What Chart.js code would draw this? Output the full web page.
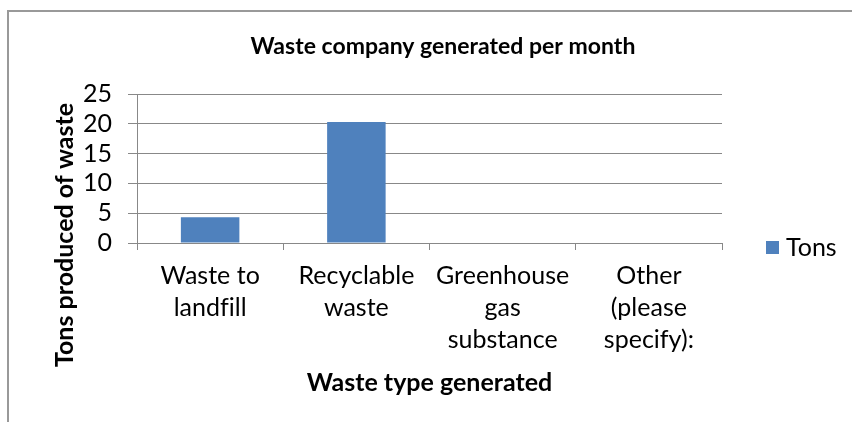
<!DOCTYPE html>
<html>
<head>
<meta charset="utf-8">
<script src="https://cdn.jsdelivr.net/npm/chart.js@4/dist/chart.umd.min.js"></script>
<style>
  html, body { margin: 0; padding: 0; background: #fff; }
  #wrap { position: relative; width: 852px; height: 422px; overflow: hidden; }
  #frame {
    position: absolute; left: 7px; top: 10px; width: 900px; height: 500px;
    border-left: 2px solid #999; border-top: 2px solid #999;
  }
  #chart { position: absolute; left: 0; top: 0; }
</style>
</head>
<body>
<div id="wrap">
  <div id="frame"></div>
  <canvas id="chart" width="852" height="422"></canvas>
</div>
<script>
// Monthly waste figures by waste type
const categories = [
  ['Waste to', 'landfill'],
  ['Recyclable', 'waste'],
  ['Greenhouse', 'gas', 'substance'],
  ['Other', '(please', 'specify):']
];
const tons = [4.3, 20.3, 0, 0];
const yTicks = [0, 5, 10, 15, 20, 25];

const chartTitle = 'Waste company generated per month';
const yTitle = 'Tons produced of waste';
const xTitle = 'Waste type generated';
const seriesName = 'Tons';

const FONT = 'Lato, "Open Sans", sans-serif';
const BAR = '#4F81BD';
const GRID = '#888888';

// A hair of letter spacing keeps "fi" as two separate glyphs
const plainLetters = {
  id: 'plainLetters',
  beforeDraw(chart) {
    if ('letterSpacing' in chart.ctx) chart.ctx.letterSpacing = '0.01px';
  }
};

// Chart title, vertical axis title and the legend, positioned like an office chart
const decorations = {
  id: 'decorations',
  afterDraw(chart) {
    const ctx = chart.ctx;
    ctx.save();
    ctx.fillStyle = '#000';
    ctx.textBaseline = 'middle';

    ctx.font = 'bold 23px ' + FONT;
    ctx.textAlign = 'center';
    ctx.fillText(chartTitle, 443, 47);

    ctx.save();
    ctx.translate(65, 235);
    ctx.rotate(-Math.PI / 2);
    ctx.font = 'bold 25px ' + FONT;
    ctx.fillText(yTitle, 0, 0);
    ctx.restore();

    const ds = chart.data.datasets[0];
    ctx.fillStyle = ds.backgroundColor;
    ctx.fillRect(766, 241, 13, 13);
    ctx.fillStyle = '#000';
    ctx.font = '25px ' + FONT;
    ctx.textAlign = 'left';
    ctx.fillText(ds.label, 786, 248);
    ctx.restore();
  }
};

new Chart(document.getElementById('chart'), {
  type: 'bar',
  data: {
    labels: categories,
    datasets: [{
      label: seriesName,
      data: tons,
      backgroundColor: BAR,
      borderWidth: 0,
      barPercentage: 0.4,
      categoryPercentage: 1.0
    }]
  },
  options: {
    responsive: false,
    animation: false,
    layout: { padding: { top: 94, left: 0, right: 130, bottom: 0 } },
    plugins: {
      legend: { display: false },
      title: { display: false },
      tooltip: { enabled: false }
    },
    scales: {
      x: {
        grid: {
          display: true,
          drawOnChartArea: false,
          drawTicks: true,
          tickLength: 7,
          color: GRID,
          offset: true
        },
        border: { display: true, color: GRID, width: 1 },
        ticks: {
          color: '#000',
          font: { family: FONT, size: 25, lineHeight: 1.28 },
          padding: 10,
          maxRotation: 0,
          autoSkip: false
        },
        title: {
          display: true,
          text: xTitle,
          color: '#000',
          font: { family: FONT, size: 25, weight: 'bold', lineHeight: 1.2 },
          padding: { top: 0, bottom: 24 }
        },
        afterFit(scale) { scale.height = 179; }
      },
      y: {
        min: 0,
        max: 25,
        grid: {
          color: GRID,
          drawTicks: true,
          tickLength: 9
        },
        border: { display: true, color: GRID, width: 1 },
        ticks: {
          color: '#000',
          font: { family: FONT, size: 25 },
          padding: 16,
          stepSize: 5,
          autoSkip: false,
          callback: (v) => yTicks.includes(v) ? String(v) : ''
        },
        afterFit(scale) { scale.width = 137; }
      }
    }
  },
  plugins: [plainLetters, decorations]
});
</script>
</body>
</html>
